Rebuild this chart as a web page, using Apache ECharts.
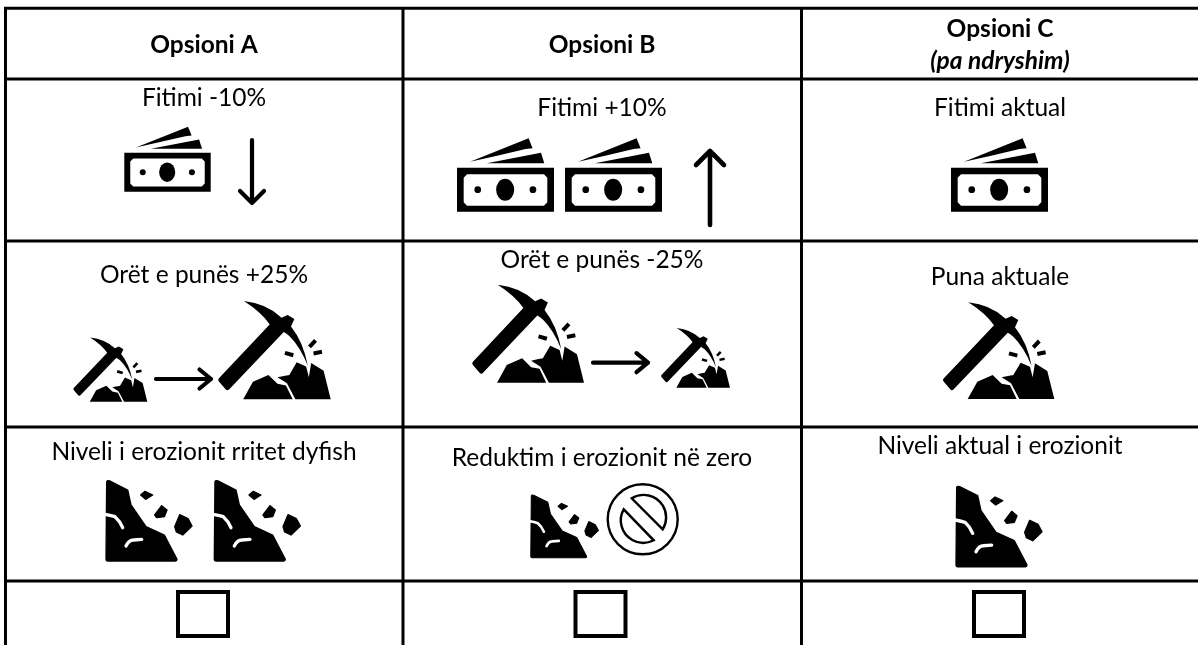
<!DOCTYPE html>
<html>
<head>
<meta charset="utf-8">
<title>Opsionet</title>
<script src="https://cdn.jsdelivr.net/npm/echarts@6/dist/echarts.min.js"></script>
<style>
  html, body { margin: 0; padding: 0; background: #fff; }
  #chart { width: 1198px; height: 645px; }
</style>
</head>
<body>
<div id="chart"></div>
<script>
  // table content
  const headerTitles = ['Opsioni A', 'Opsioni B', 'Opsioni C'];
  const headerNotes = ['', '', '(pa ndryshim)'];
  const profitLabels = ['Fitimi -10%', 'Fitimi +10%', 'Fitimi aktual'];
  const workLabels = ['Orët e punës +25%', 'Orët e punës -25%', 'Puna aktuale'];
  const erosionLabels = ['Niveli i erozionit rritet dyfish', 'Reduktim i erozionit në zero', 'Niveli aktual i erozionit'];

  // layout, in page pixels
  const FONT = 'Lato, "Open Sans", sans-serif';
  const TEXT_SIZE = 24.5;
  const columnX = [5.5, 403, 801.5];
  const columnBottom = 645;
  const rowY = [8.3, 79, 241, 427, 581];
  const tableRight = 1198;
  const columnCenter = [204, 602, 1000];
  const titleY = [45, 45, 29];
  const profitY = [98, 108, 108];
  const workY = [275, 260, 277];
  const erosionY = [452, 458, 446];

  // glyphs: layers drawn in a local w x h box
  const glyphs = {
    money: {
      w: 290, h: 220,
      layers: [
        { d: 'M0 88H290V220H0Z M20 118V192L30 202H260L270 192V118L260 108H30Z', fill: '#000' },
        { d: 'M39 70L214 0L226 30L205 32L120 52Z', fill: '#000' },
        { d: 'M89 75L251 43L261 75Z', fill: '#000' },
        { d: 'M52 154A10 10 0 1 1 72 154A10 10 0 1 1 52 154Z', fill: '#000' },
        { d: 'M117 154A27 33 0 1 1 171 154A27 33 0 1 1 117 154Z', fill: '#000' },
        { d: 'M217 154A10 10 0 1 1 237 154A10 10 0 1 1 217 154Z', fill: '#000' }
      ]
    },
    pick: {
      w: 331, h: 291,
      layers: [
        { d: 'M4 234L24 257L190 84L168 61Z', fill: '#000', stroke: '#000', width: 14, join: 'round' },
        { d: 'M73 1Q140 8 185 50L203 42L223 54L213 76Q250 122 263 192Q240 135 208 104Q190 88 168 84L150 70Q125 34 73 1Z', fill: '#000' },
        { d: 'M71 291L100 239L146 219L173 245L198 250L218 291Z', fill: '#000' },
        { d: 'M173 226Q208 219 208 219L230 182L258 194L266 226L273 184L310 207L331 291H226L201 244Z', fill: '#000' },
        { d: 'M195 154L220 161', stroke: '#000', width: 12, cap: 'butt' },
        { d: 'M268 136L286 117', stroke: '#000', width: 12, cap: 'butt' },
        { d: 'M280 156L305 151', stroke: '#000', width: 12, cap: 'butt' }
      ]
    },
    erosion: {
      w: 263, h: 247,
      layers: [
        { d: 'M5 7Q7 2 14 5L68 32L78 77L123 142L178 167L216 240Q216 245 211 245H7Q3 245 3 240Z', fill: '#000', stroke: '#000', width: 4, join: 'round' },
        { d: 'M0 105Q15 107 30 112Q45 125 53 145', stroke: '#fff', width: 10, cap: 'round' },
        { d: 'M63 200Q72 182 85 182L110 180', stroke: '#fff', width: 10, cap: 'round' },
        { d: 'M107 47L120 36L143 47L122 60Z', fill: '#000', stroke: '#000', width: 4, join: 'round' },
        { d: 'M149 107L170 79L186 92L178 112L155 115Z', fill: '#000', stroke: '#000', width: 4, join: 'round' },
        { d: 'M209 142L224 106L249 118L261 140L233 167L214 158Z', fill: '#000', stroke: '#000', width: 4, join: 'round' }
      ]
    },
    noEntry: {
      w: 72, h: 72,
      layers: [
        { d: 'M1 36A35 35 0 1 1 71 36A35 35 0 1 1 1 36Z', stroke: '#000', width: 2.4 },
        { d: 'M25 15A22.5 22.5 0 0 1 56 46Z', stroke: '#000', width: 2.4 },
        { d: 'M17 26A22.5 22.5 0 0 0 47 57Z', stroke: '#000', width: 2.4 }
      ]
    },
    arrowDown: {
      w: 32, h: 71,
      layers: [{ d: 'M16 4V67M4 55L16 67L28 55', stroke: '#000', width: 4.2, cap: 'round', join: 'round' }]
    },
    arrowUp: {
      w: 36, h: 82,
      layers: [{ d: 'M18 78V4M4 18L18 4L32 18', stroke: '#000', width: 4.6, cap: 'round', join: 'round' }]
    },
    arrowRight: {
      w: 63, h: 27,
      layers: [{ d: 'M4 13.5H59M47.5 4L59 13.5L47.5 23', stroke: '#000', width: 4.2, cap: 'round', join: 'round' }]
    },
    box: {
      w: 54, h: 48,
      layers: [{ d: 'M2 2H52V46H2Z', stroke: '#000', width: 4, join: 'miter' }]
    }
  };

  // glyph name, left, top, drawn width, drawn height
  const placedGlyphs = [
    ['money', 124.3, 126.7, 86.4, 65],
    ['arrowDown', 236, 136, 32, 71],
    ['money', 457, 138.3, 97, 73.4],
    ['money', 565, 138.3, 97, 73.4],
    ['arrowUp', 692, 147, 36, 82],
    ['money', 951, 138.3, 97, 73.4],
    ['pick', 74, 337.3, 73.3, 64.4],
    ['arrowRight', 152, 365.5, 63, 27],
    ['pick', 219.3, 300.7, 111.4, 98.6],
    ['pick', 473.3, 284.3, 110.7, 98.4],
    ['arrowRight', 589, 349.2, 63, 27],
    ['pick', 661.7, 327.7, 68.3, 60],
    ['pick', 944, 302, 110.3, 97],
    ['erosion', 105, 479.3, 87.7, 82.4],
    ['erosion', 213.3, 479.3, 87.7, 82.4],
    ['erosion', 530, 494, 69, 64.3],
    ['noEntry', 606.7, 483.3, 72, 72],
    ['erosion', 955, 485, 87.7, 82.4],
    ['box', 176, 590, 54, 48],
    ['box', 573.5, 590, 54, 48],
    ['box', 972, 590, 54, 48]
  ];

  // text, center x, center y, bold, italic
  const placedLabels = [];
  headerTitles.forEach((t, i) => placedLabels.push([t, columnCenter[i], titleY[i], true, false]));
  headerNotes.forEach((t, i) => { if (t) placedLabels.push([t, columnCenter[i], 61, true, true]); });
  profitLabels.forEach((t, i) => placedLabels.push([t, columnCenter[i], profitY[i], false, false]));
  workLabels.forEach((t, i) => placedLabels.push([t, columnCenter[i], workY[i], false, false]));
  erosionLabels.forEach((t, i) => placedLabels.push([t, columnCenter[i], erosionY[i], false, false]));

  // x1, y1, x2, y2
  const rules = [];
  rowY.forEach(y => rules.push([columnX[0] - 1.5, y, tableRight, y]));
  columnX.forEach(x => rules.push([x, rowY[0], x, columnBottom]));

  function renderRule(params, api) {
    const a = api.coord([api.value(0), api.value(1)]);
    const b = api.coord([api.value(2), api.value(3)]);
    return {
      type: 'line',
      shape: { x1: a[0], y1: a[1], x2: b[0], y2: b[1] },
      style: { stroke: '#000', lineWidth: 3 }
    };
  }

  function renderGlyph(params, api) {
    const glyph = glyphs[placedGlyphs[params.dataIndex][0]];
    const p = api.coord([api.value(0), api.value(1)]);
    const q = api.coord([api.value(0) + api.value(2), api.value(1) + api.value(3)]);
    return {
      type: 'group',
      x: p[0],
      y: p[1],
      scaleX: (q[0] - p[0]) / glyph.w,
      scaleY: (q[1] - p[1]) / glyph.h,
      children: glyph.layers.map(l => ({
        type: 'path',
        shape: { pathData: l.d },
        style: {
          fill: l.fill || 'none',
          stroke: l.stroke || 'none',
          lineWidth: l.width || 0,
          lineCap: l.cap || 'butt',
          lineJoin: l.join || 'miter'
        }
      }))
    };
  }

  function renderLabel(params, api) {
    const item = placedLabels[params.dataIndex];
    const p = api.coord([api.value(0), api.value(1)]);
    return {
      type: 'text',
      x: p[0],
      y: p[1],
      style: {
        text: item[0],
        fill: '#000',
        align: 'center',
        verticalAlign: 'middle',
        font: (item[4] ? 'italic ' : '') + (item[3] ? 'bold ' : '') + TEXT_SIZE + 'px ' + FONT
      }
    };
  }

  const chart = echarts.init(document.getElementById('chart'), null, { renderer: 'canvas' });
  chart.setOption({
    animation: false,
    backgroundColor: '#fff',
    tooltip: { show: false },
    grid: { left: 0, right: 0, top: 0, bottom: 0 },
    xAxis: { type: 'value', min: 0, max: 1198, show: false },
    yAxis: { type: 'value', min: 0, max: 645, inverse: true, show: false },
    series: [
      {
        type: 'custom',
        silent: true,
        clip: false,
        renderItem: renderRule,
        encode: { x: [0, 2], y: [1, 3] },
        data: rules
      },
      {
        type: 'custom',
        silent: true,
        clip: false,
        renderItem: renderGlyph,
        encode: { x: 0, y: 1 },
        data: placedGlyphs.map(g => g.slice(1))
      },
      {
        type: 'custom',
        silent: true,
        clip: false,
        renderItem: renderLabel,
        encode: { x: 0, y: 1 },
        data: placedLabels.map(l => [l[1], l[2]])
      }
    ]
  });
</script>
</body>
</html>
